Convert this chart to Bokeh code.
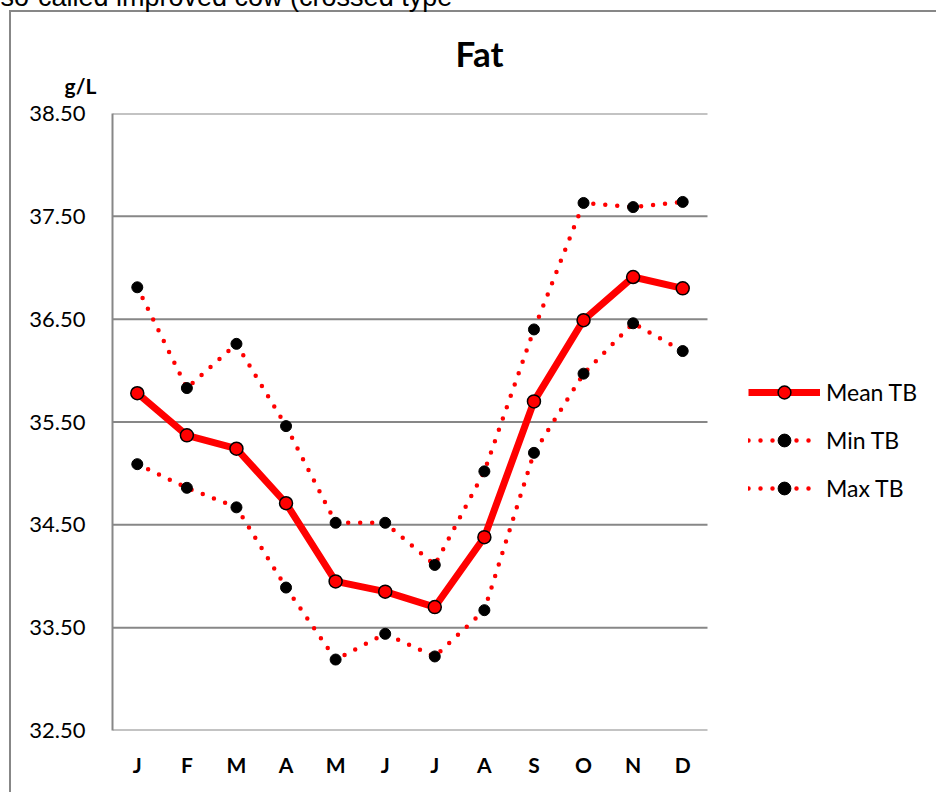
from bokeh.plotting import figure
from bokeh.models import Range1d, FixedTicker, Legend, LegendItem, Label, NumeralTickFormatter
from bokeh.embed import file_html
from bokeh.resources import INLINE

months = ["J", "F", "M", "A", "M", "J", "J", "A", "S", "O", "N", "D"]
mean_tb = [35.78, 35.37, 35.24, 34.71, 33.95, 33.85, 33.70, 34.38, 35.70, 36.49, 36.91, 36.80]
min_tb = [35.09, 34.86, 34.67, 33.89, 33.19, 33.44, 33.22, 33.67, 35.20, 35.97, 36.46, 36.19]
max_tb = [36.81, 35.83, 36.26, 35.46, 34.52, 34.52, 34.11, 35.02, 36.40, 37.63, 37.59, 37.64]
y_ticks = [32.5, 33.5, 34.5, 35.5, 36.5, 37.5, 38.5]

FONT = "Lato"
GRAY = "#878787"

xs = list(range(len(months)))
n = len(months)
x_start = -0.5
x_plot_end = n - 0.5
# frame reaches to the right edge so the legend (outside the plot area) is not clipped
x_view_end = x_start + (936 - 112) / ((707 - 112) / n)

p = figure(width=936, height=792, output_backend="svg", toolbar_location=None,
           x_range=Range1d(x_start, x_view_end), y_range=Range1d(y_ticks[0], y_ticks[-1]),
           min_border_left=112, min_border_right=0, min_border_top=113, min_border_bottom=62,
           title=None)
p.margin = 0
p.outline_line_color = None
p.background_fill_color = "white"
p.border_fill_color = None
# outer chart border (top-left corner visible, rest outside the view)
p.styles = {
    "background-color": "white",
    "background-image": f"linear-gradient({GRAY}, {GRAY}), linear-gradient({GRAY}, {GRAY})",
    "background-size": "2px 100%, 100% 2px",
    "background-position": "9px 10px, 9px 10px",
    "background-repeat": "no-repeat",
}

p.xgrid.grid_line_color = None
p.ygrid.grid_line_color = None
# horizontal gridlines, limited to the plot area
p.segment(x0=[x_start] * len(y_ticks), x1=[x_plot_end] * len(y_ticks), y0=y_ticks, y1=y_ticks,
          line_color=GRAY, line_width=2)

p.yaxis.ticker = FixedTicker(ticks=y_ticks)
p.yaxis.formatter = NumeralTickFormatter(format="0.00")
p.yaxis.axis_line_color = GRAY
p.yaxis.axis_line_width = 2
p.yaxis.major_tick_line_color = None
p.yaxis.minor_tick_line_color = None
p.yaxis.major_label_standoff = 21
p.yaxis.major_label_text_font = FONT
p.yaxis.major_label_text_font_size = "22px"
p.yaxis.major_label_text_color = "black"

p.xaxis.ticker = FixedTicker(ticks=xs)
p.xaxis.major_label_overrides = {i: m for i, m in enumerate(months)}
p.xaxis.axis_line_color = None
p.xaxis.major_tick_line_color = None
p.xaxis.minor_tick_line_color = None
p.xaxis.major_label_standoff = 15
p.xaxis.major_label_text_font = FONT
p.xaxis.major_label_text_font_style = "bold"
p.xaxis.major_label_text_font_size = "21px"
p.xaxis.major_label_text_color = "black"

min_line = p.line(xs, min_tb, line_color="red", line_width=4.5, line_dash="0 12", line_cap="round")
max_line = p.line(xs, max_tb, line_color="red", line_width=4.5, line_dash="0 12", line_cap="round")
min_pts = p.scatter(xs, min_tb, size=11, fill_color="black", line_color="black")
max_pts = p.scatter(xs, max_tb, size=11, fill_color="black", line_color="black")
mean_line = p.line(xs, mean_tb, line_color="red", line_width=7, line_join="round")
mean_pts = p.scatter(xs, mean_tb, size=13, fill_color="red", line_color="black", line_width=1.5)

legend = Legend(items=[
    LegendItem(label="Mean TB", renderers=[mean_line, mean_pts]),
    LegendItem(label="Min TB", renderers=[min_line, min_pts]),
    LegendItem(label="Max TB", renderers=[max_line, max_pts]),
], location=(636, 226), glyph_width=72, glyph_height=32, label_height=32, spacing=16,
    padding=0, margin=0, border_line_color=None, background_fill_alpha=0,
    label_text_font=FONT, label_text_font_size="23px", label_standoff=6,
    label_text_color="black")
p.add_layout(legend)

p.add_layout(Label(x=479, y=52, x_units="canvas", y_units="canvas", text="Fat", text_font=FONT,
                   text_font_style="bold", text_font_size="35px", text_align="center",
                   text_baseline="middle", text_color="black"), "above")
p.add_layout(Label(x=80, y=85, x_units="canvas", y_units="canvas", text="g/L", text_font=FONT,
                   text_font_style="bold", text_font_size="21px", text_align="center",
                   text_baseline="alphabetic", text_color="black"), "above")
p.add_layout(Label(x=0, y=-4, x_units="canvas", y_units="canvas",
                   text="so-called improved cow (crossed type", text_font="Liberation Sans",
                   text_font_size="27px", text_align="left", text_baseline="alphabetic",
                   text_color="black"), "above")

open("out.html", "w").write(file_html(p, INLINE))
